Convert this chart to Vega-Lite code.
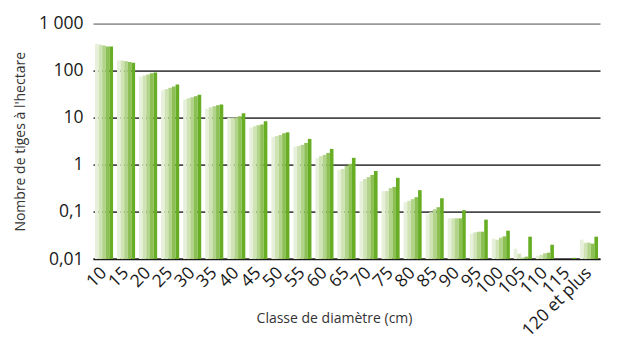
{
  "$schema": "https://vega.github.io/schema/vega-lite/v6.json",
  "autosize": {"type": "none"},
  "padding": {"left": 93, "top": 23.6, "right": 37, "bottom": 86},
  "width": 507,
  "height": 235.4,
  "background": "white",
  "config": {
    "font": "Open Sans",
    "view": {"stroke": null}
  },
  "data": {
    "values": [
      {"classe": "10", "serie": "S1", "tiges": 372},
      {"classe": "10", "serie": "S2", "tiges": 355},
      {"classe": "10", "serie": "S3", "tiges": 343},
      {"classe": "10", "serie": "S4", "tiges": 327},
      {"classe": "10", "serie": "S5", "tiges": 327},
      {"classe": "15", "serie": "S1", "tiges": 165},
      {"classe": "15", "serie": "S2", "tiges": 165},
      {"classe": "15", "serie": "S3", "tiges": 159},
      {"classe": "15", "serie": "S4", "tiges": 152},
      {"classe": "15", "serie": "S5", "tiges": 147},
      {"classe": "20", "serie": "S1", "tiges": 75},
      {"classe": "20", "serie": "S2", "tiges": 79},
      {"classe": "20", "serie": "S3", "tiges": 83},
      {"classe": "20", "serie": "S4", "tiges": 88},
      {"classe": "20", "serie": "S5", "tiges": 92},
      {"classe": "25", "serie": "S1", "tiges": 38},
      {"classe": "25", "serie": "S2", "tiges": 41},
      {"classe": "25", "serie": "S3", "tiges": 43.4},
      {"classe": "25", "serie": "S4", "tiges": 46},
      {"classe": "25", "serie": "S5", "tiges": 51},
      {"classe": "30", "serie": "S1", "tiges": 24.5},
      {"classe": "30", "serie": "S2", "tiges": 26},
      {"classe": "30", "serie": "S3", "tiges": 27.4},
      {"classe": "30", "serie": "S4", "tiges": 28.7},
      {"classe": "30", "serie": "S5", "tiges": 31},
      {"classe": "35", "serie": "S1", "tiges": 15.5},
      {"classe": "35", "serie": "S2", "tiges": 16.8},
      {"classe": "35", "serie": "S3", "tiges": 17.6},
      {"classe": "35", "serie": "S4", "tiges": 18.5},
      {"classe": "35", "serie": "S5", "tiges": 19.2},
      {"classe": "40", "serie": "S1", "tiges": 10},
      {"classe": "40", "serie": "S2", "tiges": 10},
      {"classe": "40", "serie": "S3", "tiges": 10.1},
      {"classe": "40", "serie": "S4", "tiges": 10.8},
      {"classe": "40", "serie": "S5", "tiges": 12.4},
      {"classe": "45", "serie": "S1", "tiges": 6.2},
      {"classe": "45", "serie": "S2", "tiges": 6.6},
      {"classe": "45", "serie": "S3", "tiges": 6.9},
      {"classe": "45", "serie": "S4", "tiges": 7.2},
      {"classe": "45", "serie": "S5", "tiges": 8.4},
      {"classe": "50", "serie": "S1", "tiges": 3.9},
      {"classe": "50", "serie": "S2", "tiges": 4.1},
      {"classe": "50", "serie": "S3", "tiges": 4.3},
      {"classe": "50", "serie": "S4", "tiges": 4.7},
      {"classe": "50", "serie": "S5", "tiges": 4.9},
      {"classe": "55", "serie": "S1", "tiges": 2.44},
      {"classe": "55", "serie": "S2", "tiges": 2.52},
      {"classe": "55", "serie": "S3", "tiges": 2.65},
      {"classe": "55", "serie": "S4", "tiges": 2.92},
      {"classe": "55", "serie": "S5", "tiges": 3.55},
      {"classe": "60", "serie": "S1", "tiges": 1.39},
      {"classe": "60", "serie": "S2", "tiges": 1.53},
      {"classe": "60", "serie": "S3", "tiges": 1.63},
      {"classe": "60", "serie": "S4", "tiges": 1.79},
      {"classe": "60", "serie": "S5", "tiges": 2.18},
      {"classe": "65", "serie": "S1", "tiges": 0.78},
      {"classe": "65", "serie": "S2", "tiges": 0.82},
      {"classe": "65", "serie": "S3", "tiges": 0.95},
      {"classe": "65", "serie": "S4", "tiges": 1.05},
      {"classe": "65", "serie": "S5", "tiges": 1.41},
      {"classe": "70", "serie": "S1", "tiges": 0.45},
      {"classe": "70", "serie": "S2", "tiges": 0.5},
      {"classe": "70", "serie": "S3", "tiges": 0.55},
      {"classe": "70", "serie": "S4", "tiges": 0.61},
      {"classe": "70", "serie": "S5", "tiges": 0.74},
      {"classe": "75", "serie": "S1", "tiges": 0.277},
      {"classe": "75", "serie": "S2", "tiges": 0.277},
      {"classe": "75", "serie": "S3", "tiges": 0.32},
      {"classe": "75", "serie": "S4", "tiges": 0.34},
      {"classe": "75", "serie": "S5", "tiges": 0.53},
      {"classe": "80", "serie": "S1", "tiges": 0.161},
      {"classe": "80", "serie": "S2", "tiges": 0.172},
      {"classe": "80", "serie": "S3", "tiges": 0.187},
      {"classe": "80", "serie": "S4", "tiges": 0.206},
      {"classe": "80", "serie": "S5", "tiges": 0.29},
      {"classe": "85", "serie": "S1", "tiges": 0.089},
      {"classe": "85", "serie": "S2", "tiges": 0.099},
      {"classe": "85", "serie": "S3", "tiges": 0.114},
      {"classe": "85", "serie": "S4", "tiges": 0.126},
      {"classe": "85", "serie": "S5", "tiges": 0.195},
      {"classe": "90", "serie": "S1", "tiges": 0.073},
      {"classe": "90", "serie": "S2", "tiges": 0.073},
      {"classe": "90", "serie": "S3", "tiges": 0.073},
      {"classe": "90", "serie": "S4", "tiges": 0.073},
      {"classe": "90", "serie": "S5", "tiges": 0.109},
      {"classe": "95", "serie": "S1", "tiges": 0.0345},
      {"classe": "95", "serie": "S2", "tiges": 0.0368},
      {"classe": "95", "serie": "S3", "tiges": 0.038},
      {"classe": "95", "serie": "S4", "tiges": 0.038},
      {"classe": "95", "serie": "S5", "tiges": 0.0686},
      {"classe": "100", "serie": "S1", "tiges": 0.027},
      {"classe": "100", "serie": "S2", "tiges": 0.0257},
      {"classe": "100", "serie": "S3", "tiges": 0.0284},
      {"classe": "100", "serie": "S4", "tiges": 0.0303},
      {"classe": "100", "serie": "S5", "tiges": 0.04},
      {"classe": "105", "serie": "S1", "tiges": 0.0166},
      {"classe": "105", "serie": "S2", "tiges": 0.013},
      {"classe": "105", "serie": "S3", "tiges": 0.0107},
      {"classe": "105", "serie": "S4", "tiges": 0.0112},
      {"classe": "105", "serie": "S5", "tiges": 0.0298},
      {"classe": "110", "serie": "S1", "tiges": 0.0117},
      {"classe": "110", "serie": "S2", "tiges": 0.0123},
      {"classe": "110", "serie": "S3", "tiges": 0.0132},
      {"classe": "110", "serie": "S4", "tiges": 0.0136},
      {"classe": "110", "serie": "S5", "tiges": 0.0201},
      {"classe": "115", "serie": "S5", "tiges": 0.0106},
      {"classe": "120 et plus", "serie": "S1", "tiges": 0.0258},
      {"classe": "120 et plus", "serie": "S2", "tiges": 0.0222},
      {"classe": "120 et plus", "serie": "S3", "tiges": 0.0222},
      {"classe": "120 et plus", "serie": "S4", "tiges": 0.0212},
      {"classe": "120 et plus", "serie": "S5", "tiges": 0.0298}
    ]
  },
  "mark": {"type": "bar"},
  "encoding": {
    "x": {
      "field": "classe",
      "type": "nominal",
      "sort": null,
      "scale": {"paddingInner": 0.18, "paddingOuter": 0.09},
      "axis": {
        "title": "Classe de diamètre (cm)",
        "titleFont": "Open Sans",
        "titleFontSize": 14,
        "titleFontWeight": "normal",
        "titleColor": "#333333",
        "titleBaseline": "middle",
        "titleAlign": "center",
        "titleX": 241,
        "titleY": 59,
        "labelAngle": -45,
        "labelAlign": "right",
        "labelBaseline": "middle",
        "labelFontSize": 17.5,
        "labelColor": "#1a1a1a",
        "labelPadding": 11,
        "labelOverlap": false,
        "labelBound": false,
        "ticks": false,
        "domainColor": "#1a1a1a",
        "domainWidth": 1.5
      }
    },
    "xOffset": {
      "field": "serie",
      "type": "nominal",
      "scale": {"paddingInner": 0, "paddingOuter": 0}
    },
    "y": {
      "field": "tiges",
      "type": "quantitative",
      "scale": {"type": "log", "domain": [0.01, 1000], "nice": false},
      "axis": {
        "title": "Nombre de tiges à l'hectare",
        "titleFont": "Open Sans",
        "titleFontSize": 14,
        "titleFontWeight": "normal",
        "titleColor": "#333333",
        "titlePadding": 11,
        "values": [0.01, 0.1, 1, 10, 100, 1000],
        "labelExpr": "datum.value >= 1000 ? '1 000' : datum.value == 0.1 ? '0,1' : datum.value < 0.05 ? '0,01' : datum.label",
        "labelFontSize": 17.5,
        "labelColor": "#1a1a1a",
        "labelPadding": 10,
        "ticks": false,
        "domain": false,
        "grid": true,
        "gridColor": {"condition": {"test": "datum.value >= 1000", "value": "#9a9a9a"}, "value": "#4a4a4a"},
        "gridWidth": 1.8
      }
    },
    "y2": {"datum": 0.01},
    "color": {
      "field": "serie",
      "type": "nominal",
      "legend": null,
      "scale": {
        "domain": ["S1", "S2", "S3", "S4", "S5"],
        "range": ["#e7f0db", "#cfe3b4", "#b2d38a", "#8dc054", "#67ae24"]
      }
    }
  }
}
